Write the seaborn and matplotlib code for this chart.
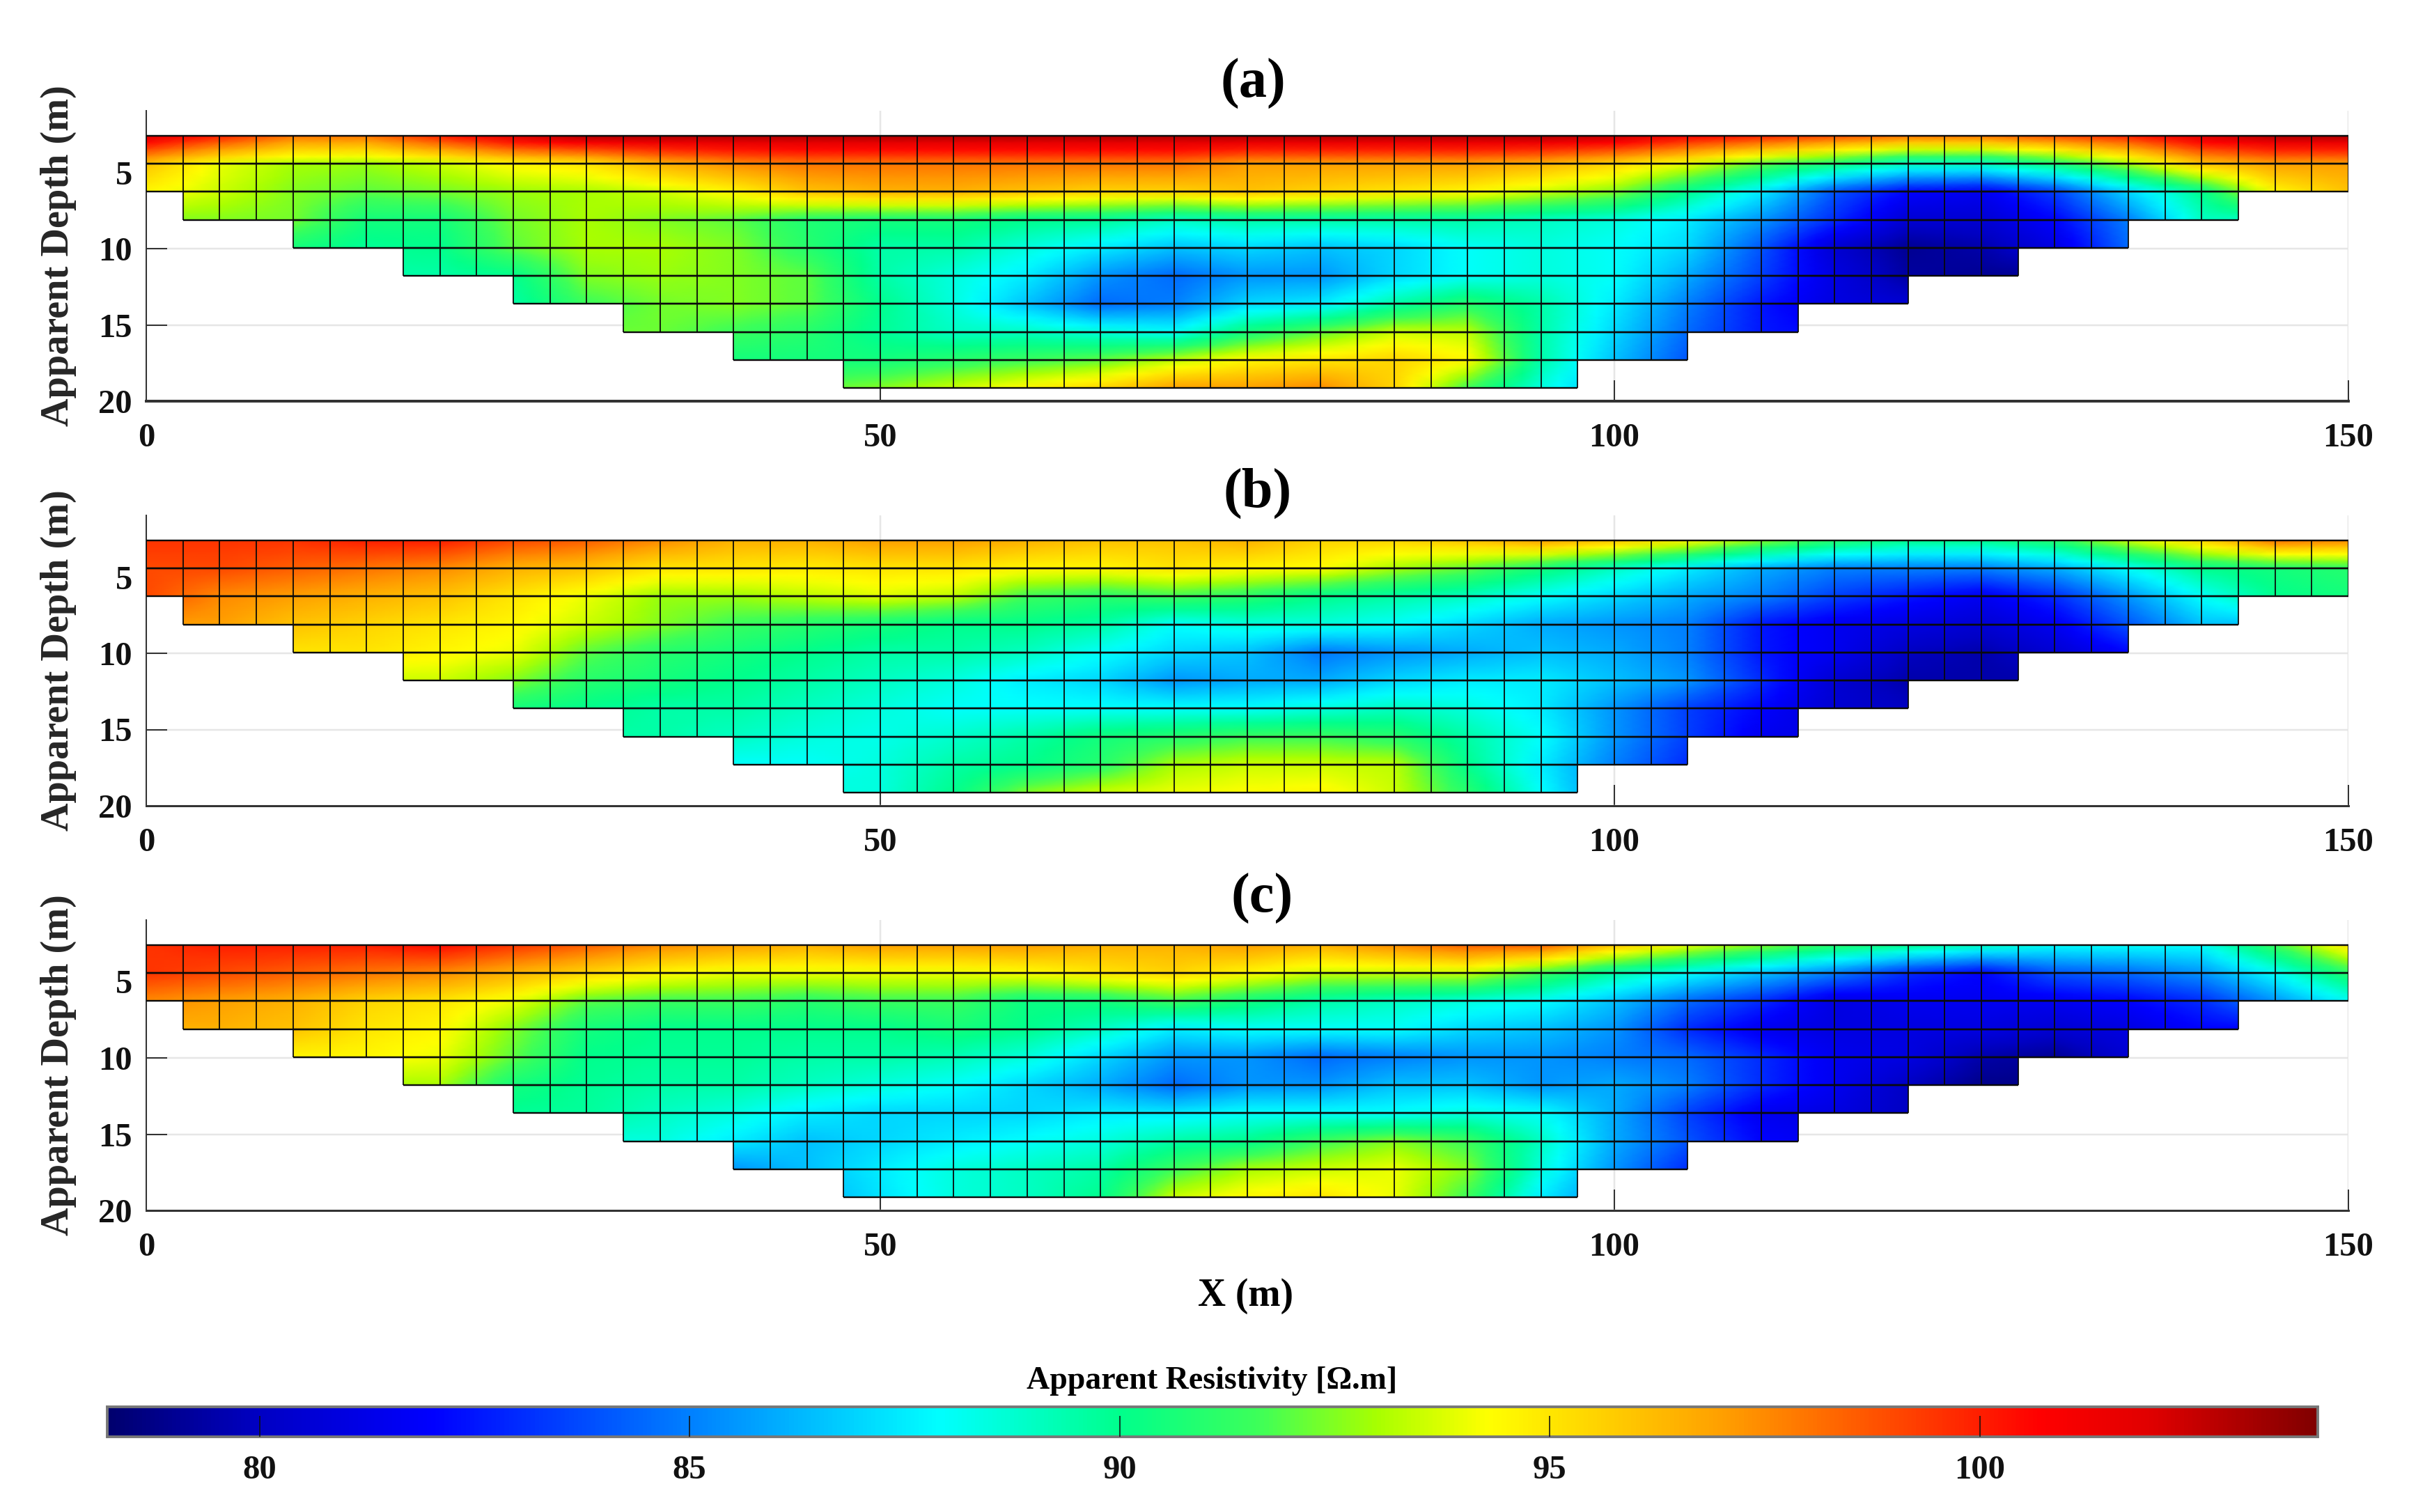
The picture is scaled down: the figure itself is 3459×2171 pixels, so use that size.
import numpy as np
import pandas as pd
import matplotlib
matplotlib.use("Agg")
import matplotlib.pyplot as plt
from matplotlib.colors import Normalize, LinearSegmentedColormap
from matplotlib.patches import Polygon
from matplotlib.transforms import Affine2D
import seaborn as sns

_ = np.nan
# Node x positions every 5 m, node rows are the cell-row boundaries (top to bottom)
node_x = list(range(0, 155, 5))
cell_dx = 2.5
row_top = 2.6
row_dy = 1.837
row_left = [0, 0, 2.5, 10, 17.5, 25, 32.5, 40, 47.5]
row_right = [150, 150, 142.5, 135, 127.5, 120, 112.5, 105, 97.5]
x_ticks = [0, 50, 100, 150]
y_ticks = [5, 10, 15, 20]
cbar_ticks = [80, 85, 90, 95, 100]
panel_labels = ["(a)", "(b)", "(c)"]
v_min, v_max = 78.23, 103.93
cmap_values = [78.23, 80, 82, 85, 87.9, 90, 91.6, 93, 94.3, 97, 100.7, 102, 103.93]
cmap_colors = ["#00006e", "#0000c4", "#0000ff", "#0080ff", "#00ffff", "#00ff8c", "#3cff5a",
               "#a8ff00", "#ffff00", "#ffa000", "#ff0000", "#e00000", "#800000"]

a_rows = [
 [102,100,98,98,100,102,103,103,103,103,103,103,103,103,103,103,103,103,103,103,102.5,101,100,99,98,98,99,100,102,103,103],
 [96,94,93,92.8,93.5,94.5,95,96.5,97.5,98,98,98,98,98,98,97,97,97,97,96.5,95.5,94,92,90.5,89,89,90.5,93,96,97,97],
 [94.5,93.5,92.5,92,92.3,92.8,93,93.5,94.5,96,96.5,96.5,96,95.5,95.5,96,95.5,95,94.5,93.5,92.5,90,87.5,84,82,81.5,83.5,87,90,94.5,96],
 [_,92.5,92.3,90.5,90.5,92.3,93,92.5,92,90.8,90.5,90.5,90,89.8,89,89.5,89.5,89.5,89.5,89,88.5,87.5,85.5,83,80.5,80.5,82,85,89,_,_],
 [_,_,90.5,89.8,90,92,93,93,92.5,91,89.5,89.5,88.5,87.5,86.5,87,86.5,87,88,88.5,88,87,84,80.5,79,79.5,81,84.5,_,_,_],
 [_,_,_,_,89.5,90,92.5,92.8,92.5,92,89.5,88.5,87.5,85.5,84.5,85.5,85.5,87,88,88.5,88,86,83.5,81,79.3,79,_,_,_,_,_],
 [_,_,_,_,_,89.5,91.5,92.3,92.5,92,90,88.5,86.5,84.5,85,87,87.5,89.5,91,89.5,87.5,85,82.5,81,80.5,_,_,_,_,_,_],
 [_,_,_,_,_,_,_,92.2,91.5,91,89.8,89,89,88.5,88,90.5,92,93.5,93.3,89.5,87,84.5,82.5,82,_,_,_,_,_,_,_],
 [_,_,_,_,_,_,_,_,90.5,90.5,90.5,91,91.5,92,93.3,94.5,95,95.5,94.5,89.5,86.5,84,_,_,_,_,_,_,_,_,_],
 [_,_,_,_,_,_,_,_,_,92,92.5,93.5,94.5,95.5,97,97,97.5,95.5,91.5,88.5,86,_,_,_,_,_,_,_,_,_,_],
]
b_rows = [
 [99.5,99.5,99.5,100,100,99,98.5,97.5,96.5,96.5,97,97,96.5,96,96,96.5,95.5,95.5,96,97,96,94.5,92.5,91,90,90,91,93.5,95.5,98,97.5],
 [99,99,98.5,98,97.5,96.5,96,95,95,94.8,95,95,94.5,94.5,95,94.5,94.3,93,92,90.5,89,87.5,86,85,85,85,86,88,90,90.5,91],
 [99,97.5,97,96.5,96,95,94,92.8,92.8,93.3,93.8,93.3,91.5,91,91.5,91,90,89.5,89,88,87,86,85,83.5,82.5,81.5,83,85.5,88,90,90.5],
 [_,97,96,95.5,95,94.5,93.5,92.5,91.5,91,90.5,90,90,89.5,88,88.5,88.5,88,87,86,85.5,85,82.5,81.5,81,80.5,81.5,84,86.5,_,_],
 [_,_,95,95,94.5,94,92,91,90.5,90,89.5,89.5,89,88,87,86.5,84.8,85.5,86,86.5,86,85,82.5,81.5,80,79.5,80.5,82,_,_,_],
 [_,_,_,_,93.5,92.5,91,90.5,90,89.5,89,88.5,87.5,87,85.5,86,86,87,87.5,87.5,86.5,85.5,83,80.5,79.5,79.5,_,_,_,_,_],
 [_,_,_,_,_,90.5,90,89.5,89.5,89,88.5,88,88,88,88,88,88.5,89,88.5,87.5,85.5,83.5,82,80.5,80,_,_,_,_,_,_],
 [_,_,_,_,_,_,_,89.5,89,88.5,88.3,88.8,89.5,90.5,91,91.5,91.5,91,89.5,88,85.5,83.5,81.5,81,_,_,_,_,_,_,_],
 [_,_,_,_,_,_,_,_,88,88,88.5,89.5,90,91,93,93.5,93.5,93.3,90,87.5,85,83,_,_,_,_,_,_,_,_,_],
 [_,_,_,_,_,_,_,_,_,88.5,88.5,90,92.5,93.5,94,94.3,94.5,93.5,91,88,85,_,_,_,_,_,_,_,_,_,_],
]
c_rows = [
 [99.5,100,100,100,100.5,99.5,98.5,97.5,97,96.5,97,97,97,96.5,96.5,97,96.5,97.5,98.5,98.5,96,94,92.5,91,90,89,88,88,88,91.5,95],
 [99.5,99,98.5,98,97.5,96.5,95.5,94.5,94,94,94,94,94.3,95,95.5,94.5,93.5,93.5,93.5,91.5,89.5,88,86.5,85,83,82,84,84.5,85.5,88,91],
 [97.5,97,96.5,95.5,95,94,92,91.5,91.5,91,91.5,91.5,90.3,90.5,91.5,90.5,89.5,89,88.5,88,86.5,84.5,83,81,81.5,81.5,81.5,82,83,85.5,88],
 [_,96.5,96,95,94.5,92.5,90.5,90,90,90,90,90.5,90,89,87.5,88,88,88,87,86.5,85.5,83,81.5,81,81,81,80.5,81,82,_,_],
 [_,_,94.5,94.5,94,92,90,89.8,89.8,89.5,89.5,89.2,88.5,87,85.5,85.5,84.5,85,85.5,85.5,85,84.5,83,81.5,81,79.5,79,80.5,_,_,_],
 [_,_,_,_,93,90.5,89.8,89.5,89.5,89,88.5,88,87,86,84.5,85.5,85.5,86.5,86.5,85.5,86,85,83,81.5,80,78.8,_,_,_,_,_],
 [_,_,_,_,_,89.8,89.7,89,88.5,87.5,87,87,87,87.5,87.5,88,88,88,88.5,88,86,83.5,81.5,81,80,_,_,_,_,_,_],
 [_,_,_,_,_,_,_,88.5,87.5,86.5,87,87.5,88,88.5,89.5,90,91.5,92.5,91.5,89,86,84,82,81.5,_,_,_,_,_,_,_],
 [_,_,_,_,_,_,_,_,85.5,86.5,87.5,88.5,89,89.5,91.5,93,93.5,94,92.5,88.5,85.5,83,_,_,_,_,_,_,_,_,_],
 [_,_,_,_,_,_,_,_,_,86,87.3,88.5,89,90,93.5,94.5,95,94,91.5,87.5,85,_,_,_,_,_,_,_,_,_,_],
]
panels = [a_rows, b_rows, c_rows]

W, H = 3459, 2171
DPI = 100
def fig_x(px): return px / W
def fig_y(py): return 1 - py / H
PT = 72 / DPI

sns.set_style("white")
plt.rcParams["font.family"] = ["Liberation Serif", "DejaVu Serif"]
plt.rcParams["font.weight"] = "bold"
plt.rcParams["axes.labelweight"] = "bold"
plt.rcParams["text.color"] = "black"
plt.rcParams["xtick.color"] = "#333333"
plt.rcParams["ytick.color"] = "#333333"
plt.rcParams["xtick.labelcolor"] = "#111111"
plt.rcParams["ytick.labelcolor"] = "#111111"

stops = [(v - v_min) / (v_max - v_min) for v in cmap_values]
jet = LinearSegmentedColormap.from_list("section", list(zip(stops, cmap_colors)), N=512)
norm = Normalize(v_min, v_max)

fig = plt.figure(figsize=(W / DPI, H / DPI), dpi=DPI, facecolor="white")
axes_top = [159, 740, 1321]
ax_h = 417
title_xy = [(1799, 120), (1806, 708), (1812, 1290)]
cax = fig.add_axes([fig_x(154), fig_y(2063), fig_x(3328 - 154), (2063 - 2020) / H])

n_cols = int(round(150 / cell_dx))
n_rows = len(row_left)
node_y = [row_top + i * row_dy for i in range(n_rows + 1)]
cell_cx = (np.arange(n_cols) + 0.5) * cell_dx
cell_mask = np.array([[not (row_left[r] < c < row_right[r]) for c in cell_cx] for r in range(n_rows)])

for i, rows in enumerate(panels):
    ax = fig.add_axes([fig_x(210), fig_y(axes_top[i] + ax_h), fig_x(3162), ax_h / H])
    z = pd.DataFrame(rows, dtype=float).ffill(axis=1).bfill(axis=1).to_numpy()

    # Flat cell layer through seaborn (also supplies the shared colour bar)
    flat = np.array([[0.5 * (np.interp(c, node_x, z[r]) + np.interp(c, node_x, z[r + 1])) for c in cell_cx] for r in range(n_rows)])
    to_data = Affine2D().scale(cell_dx, row_dy).translate(0, row_top) + ax.transData
    last = i == len(panels) - 1
    sns.heatmap(flat, ax=ax, cmap=jet, vmin=v_min, vmax=v_max, mask=cell_mask,
                cbar=last, cbar_ax=cax if last else None,
                cbar_kws={"orientation": "horizontal", "ticks": cbar_ticks} if last else None,
                xticklabels=False, yticklabels=False, transform=to_data)

    # Smoothly shaded layer clipped to the stepped section outline
    # (refine to cell resolution so the colour ramp between nodes follows the colour map closely)
    fine_x = np.arange(0, 150.01, cell_dx / 2)
    fine_y = np.linspace(node_y[0], node_y[-1], 4 * n_rows + 1)
    z_x = np.array([np.interp(fine_x, node_x, row) for row in z])
    z_f = np.array([np.interp(fine_y, node_y, col) for col in z_x.T]).T
    img = ax.pcolormesh(fine_x, fine_y, z_f, shading="gouraud", cmap=jet, norm=norm, zorder=2)
    left_side = [(row_left[r], y) for r in range(n_rows) for y in (node_y[r], node_y[r + 1])]
    right_side = [(row_right[r], y) for r in reversed(range(n_rows)) for y in (node_y[r + 1], node_y[r])]
    outline = Polygon(left_side + right_side, closed=True, transform=ax.transData, fill=False, lw=0)
    ax.add_patch(outline)
    img.set_clip_path(outline)

    # Cell outlines
    for r in range(n_rows):
        ax.hlines(node_y[r], row_left[r], row_right[r], color="#0a0a0a", lw=2.4 * PT, zorder=3)
        ax.hlines(node_y[r + 1], row_left[r], row_right[r], color="#0a0a0a", lw=2.4 * PT, zorder=3)
        xs = np.arange(row_left[r], row_right[r] + 0.01, cell_dx)
        ax.vlines(xs, node_y[r], node_y[r + 1], color="#0a0a0a", lw=1.8 * PT, zorder=3)

    ax.set_xlim(0, 150)
    ax.set_ylim(20, 20 - ax_h / 21.9)
    ax.set_xticks(x_ticks)
    ax.set_xticklabels([str(t) for t in x_ticks])
    ax.set_yticks(y_ticks)
    ax.set_yticklabels([str(t) for t in y_ticks])
    ax.set_xlabel("")
    ax.set_axisbelow(True)
    ax.grid(True, color="#e6e6e6", lw=2.5 * PT)
    ax.tick_params(axis="both", which="major", direction="in", length=30 * PT, width=2 * PT,
                   bottom=True, left=True, labelsize=35)
    ax.tick_params(axis="x", pad=31 * PT)
    ax.tick_params(axis="y", pad=20 * PT)
    ax.patch.set_alpha(0)
    sns.despine(ax=ax, top=True, right=True)
    for side in ("left", "bottom"):
        ax.spines[side].set_visible(True)
        ax.spines[side].set_color("#333333")
    ax.spines["left"].set_linewidth(2 * PT)
    ax.spines["bottom"].set_linewidth((4 if i == 0 else 3) * PT)
    ax.set_ylabel("Apparent Depth (m)", fontsize=40.5, fontweight="bold")
    ax.yaxis.set_label_coords(-0.0315, 0.5)
    fig.text(fig_x(title_xy[i][0]), fig_y(title_xy[i][1]), panel_labels[i], fontsize=58,
             fontweight="bold", ha="center", va="center")

fig.text(fig_x(1789), fig_y(1861), "X (m)", fontsize=40, fontweight="bold", ha="center", va="center")
fig.text(fig_x(1740), fig_y(1983), "Apparent Resistivity [\u03a9.m]", fontsize=33, fontweight="bold",
         ha="center", va="center")

cax.set_axisbelow(False)
cax.tick_params(axis="x", direction="in", length=30 * PT, width=1.6 * PT, color="#111111",
                pad=26 * PT, labelsize=35, bottom=True)
for spine in cax.spines.values():
    spine.set_visible(True)
    spine.set_color("#777777")
    spine.set_linewidth(3.5 * PT)

fig.savefig("out.png", dpi=DPI, facecolor="white")
